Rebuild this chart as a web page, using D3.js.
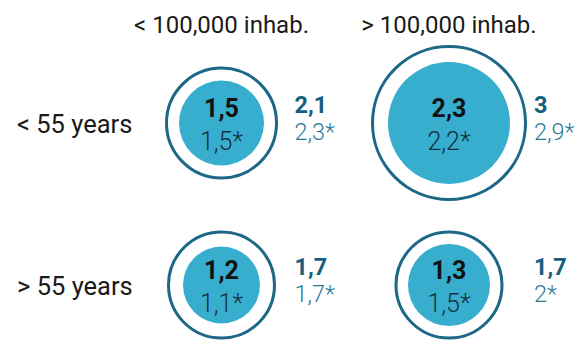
<!DOCTYPE html>
<html>
<head>
<meta charset="utf-8">
<script src="https://cdn.jsdelivr.net/npm/d3@7"></script>
<style>
  body { margin: 0; background: #fff; }
  text { font-family: Roboto, "Noto Sans", sans-serif; }
</style>
</head>
<body>
<div id="chart"></div>
<script>
// categories
const columns = ["< 100,000 inhab.", "> 100,000 inhab."];
const rows = ["< 55 years", "> 55 years"];

// one entry per cell, row by row
const cellRow = ["< 55 years", "< 55 years", "> 55 years", "> 55 years"];
const cellCol = ["< 100,000 inhab.", "> 100,000 inhab.", "< 100,000 inhab.", "> 100,000 inhab."];
const innerValue = [1.5, 2.3, 1.2, 1.3];
const innerStar = [1.5, 2.2, 1.1, 1.5];
const outerValue = [2.1, 3, 1.7, 1.7];
const outerStar = [2.3, 2.9, 1.7, 2];

const width = 582, height = 340;

const svg = d3.select("#chart")
    .append("svg")
    .attr("width", width)
    .attr("height", height);

const x = d3.scalePoint().domain(columns).range([221.5, 449]);
const y = d3.scalePoint().domain(rows).range([123, 285]);

// radius (hand drawn infographic, not a clean scale)
const r = d3.scaleLinear()
    .domain([1.2, 1.3, 1.5, 1.7, 2.1, 2.3, 3])
    .range([38.5, 41, 42.5, 54.5, 56.5, 61, 78]);

// label column to the right of each circle
const labelOffset = d3.scaleOrdinal().domain(columns).range([73, 85]);

const locale = d3.formatLocale({ decimal: ",", thousands: ".", grouping: [3], currency: ["", "€"] });
const fmt = locale.format(".1~f");

const ringColor = "#1d6887";
const fillColor = "#38aecf";
const boldBlue = "#175f7e";
const lightBlue = "#2b7896";

const cells = innerValue.map((v, i) => ({
    row: cellRow[i], col: cellCol[i],
    inner: v, innerStar: innerStar[i],
    outer: outerValue[i], outerStar: outerStar[i]
}));

// column headers
svg.append("g")
    .selectAll("text")
    .data(columns)
    .join("text")
    .attr("x", d => x(d))
    .attr("y", 33)
    .attr("text-anchor", "middle")
    .attr("font-size", "24px")
    .attr("fill", "#1a1a1a")
    .text(d => d);

// row labels
svg.append("g")
    .selectAll("text")
    .data(rows)
    .join("text")
    .attr("x", 17)
    .attr("y", d => y(d) + 10)
    .attr("font-size", "25.5px")
    .attr("fill", "#1a1a1a")
    .text(d => d);

const cell = svg.append("g")
    .selectAll("g")
    .data(cells)
    .join("g")
    .attr("transform", d => `translate(${x(d.col)},${y(d.row)})`);

// outer ring
cell.append("circle")
    .attr("r", d => r(d.outer) - 1.5)
    .attr("fill", "none")
    .attr("stroke", ringColor)
    .attr("stroke-width", 3);

// inner disc
cell.append("circle")
    .attr("r", d => r(d.inner))
    .attr("fill", fillColor);

cell.append("text")
    .attr("y", -6)
    .attr("text-anchor", "middle")
    .attr("font-size", "25px")
    .attr("font-weight", "bold")
    .attr("fill", "#111")
    .text(d => fmt(d.inner));

cell.append("text")
    .attr("y", 27)
    .attr("text-anchor", "middle")
    .attr("font-size", "25px")
    .attr("font-weight", 300)
    .attr("fill", "#14303a")
    .text(d => fmt(d.innerStar) + "*");

cell.append("text")
    .attr("x", d => labelOffset(d.col))
    .attr("y", -10)
    .attr("font-size", "23.5px")
    .attr("font-weight", "bold")
    .attr("fill", boldBlue)
    .text(d => fmt(d.outer));

cell.append("text")
    .attr("x", d => labelOffset(d.col))
    .attr("y", 17)
    .attr("font-size", "23.5px")
    .attr("font-weight", 300)
    .attr("fill", lightBlue)
    .text(d => fmt(d.outerStar) + "*");
</script>
</body>
</html>
